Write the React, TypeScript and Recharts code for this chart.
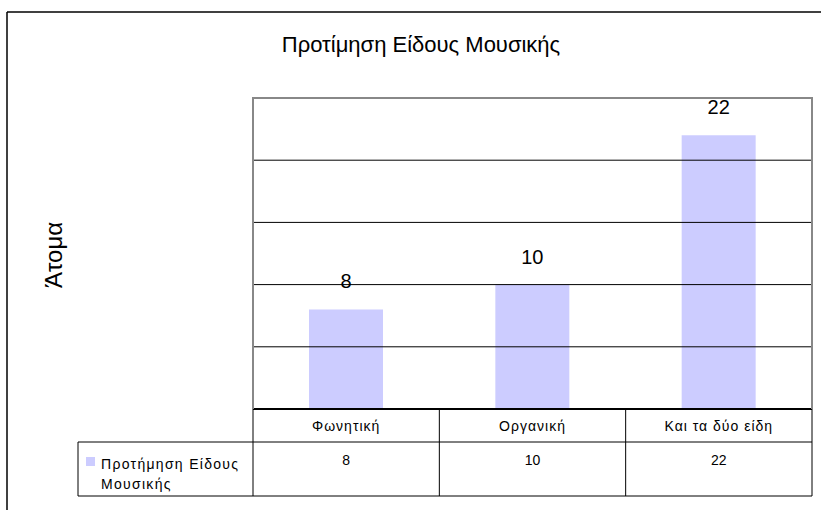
import { BarChart, Bar, XAxis, YAxis, ReferenceLine, LabelList } from 'recharts';

const categories = ['Φωνητική', 'Οργανική', 'Και τα δύο είδη'];
const values = [8, 10, 22];
const yTicks = [0, 5, 10, 15, 20, 25];
const seriesName = 'Προτήμηση Είδους Μουσικής';
const chartTitle = 'Προτίμηση Είδους Μουσικής';
const yLabel = 'Άτομα';

const data = categories.map((name, i) => ({ name, value: values[i] }));

const W = 821;
const H = 510;
const PLOT = { left: 253, right: 812, top: 98, bottom: 409 };
const TABLE_BOTTOM = 496;
const ROW_SPLIT = 442;
const LEGEND_LEFT = 78;
const BAR_COLOR = '#ccccff';
const FONT = '"Liberation Sans", Arial, sans-serif';

function TableTick(props: any) {
  const { x, y, payload, index } = props;
  const band = (PLOT.right - PLOT.left) / categories.length;
  const x0 = x - band / 2;
  const x1 = x + band / 2;
  return (
    <g>
      {index === 0 && <line x1={x0} y1={y} x2={x0} y2={TABLE_BOTTOM} stroke="#000" />}
      <line x1={x1} y1={y} x2={x1} y2={TABLE_BOTTOM} stroke="#000" />
      <text x={x} y={y + 22} textAnchor="middle" fontSize={14} letterSpacing={1} fill="#000" fontFamily={FONT}>
        {payload.value}
      </text>
      <text x={x} y={y + 56} textAnchor="middle" fontSize={14} fill="#000" fontFamily={FONT}>
        {values[index]}
      </text>
    </g>
  );
}

export default function App() {
  return (
    <div style={{ position: 'absolute', left: 0, top: 0, width: W, height: H, background: '#fff', fontFamily: FONT }}>
      <BarChart
        width={W}
        height={H}
        data={data}
        margin={{ top: PLOT.top, right: W - PLOT.right, bottom: H - TABLE_BOTTOM, left: PLOT.left }}
        barSize={74}
      >
        <YAxis domain={[0, 25]} ticks={yTicks} tick={false} axisLine={false} tickLine={false} width={0} />
        <XAxis
          dataKey="name"
          height={TABLE_BOTTOM - PLOT.bottom}
          interval={0}
          tickLine={false}
          tickSize={0}
          tickMargin={0}
          axisLine={{ stroke: '#000', strokeWidth: 2 }}
          tick={<TableTick />}
        />
        {yTicks.slice(1, -1).map((t) => (
          <ReferenceLine key={t} y={t} stroke="#000" strokeWidth={1} />
        ))}
        <Bar dataKey="value" name={seriesName} fill={BAR_COLOR} isAnimationActive={false}>
          <LabelList dataKey="value" position="top" offset={21} fontSize={20} fill="#000" fontFamily={FONT} />
        </Bar>
      </BarChart>
      <svg width={W} height={H} style={{ position: 'absolute', left: 0, top: 0, pointerEvents: 'none' }}>
        {/* outer frame */}
        <line x1={7} y1={12} x2={W} y2={12} stroke="#000" strokeWidth={1.5} />
        <line x1={7} y1={12} x2={7} y2={H} stroke="#000" strokeWidth={1.5} />
        {/* plot border */}
        <line x1={PLOT.left - 1} y1={PLOT.top} x2={PLOT.right + 1} y2={PLOT.top} stroke="#888" strokeWidth={2} />
        <line x1={PLOT.left} y1={PLOT.top} x2={PLOT.left} y2={PLOT.bottom} stroke="#888" strokeWidth={2} />
        <line x1={PLOT.right} y1={PLOT.top} x2={PLOT.right} y2={PLOT.bottom} stroke="#888" strokeWidth={2} />
        {/* data table rows */}
        <line x1={LEGEND_LEFT} y1={ROW_SPLIT} x2={PLOT.right} y2={ROW_SPLIT} stroke="#000" />
        <line x1={LEGEND_LEFT} y1={TABLE_BOTTOM} x2={PLOT.right} y2={TABLE_BOTTOM} stroke="#000" />
        <line x1={LEGEND_LEFT} y1={ROW_SPLIT} x2={LEGEND_LEFT} y2={TABLE_BOTTOM} stroke="#000" />
        <rect x={86} y={457} width={9} height={9} fill={BAR_COLOR} />
        <text x={101} y={469} fontSize={14} letterSpacing={1.3} fill="#000" fontFamily={FONT}>Προτήμηση Είδους</text>
        <text x={101} y={489} fontSize={14} letterSpacing={1.3} fill="#000" fontFamily={FONT}>Μουσικής</text>
        {/* title and axis label */}
        <text x={421} y={52} textAnchor="middle" fontSize={22} fill="#000" fontFamily={FONT}>
          {chartTitle}
        </text>
        <text
          x={62}
          y={255}
          textAnchor="middle"
          fontSize={24}
          fill="#000"
          fontFamily={FONT}
          transform="rotate(-90 62 255)"
        >
          {yLabel}
        </text>
      </svg>
    </div>
  );
}
